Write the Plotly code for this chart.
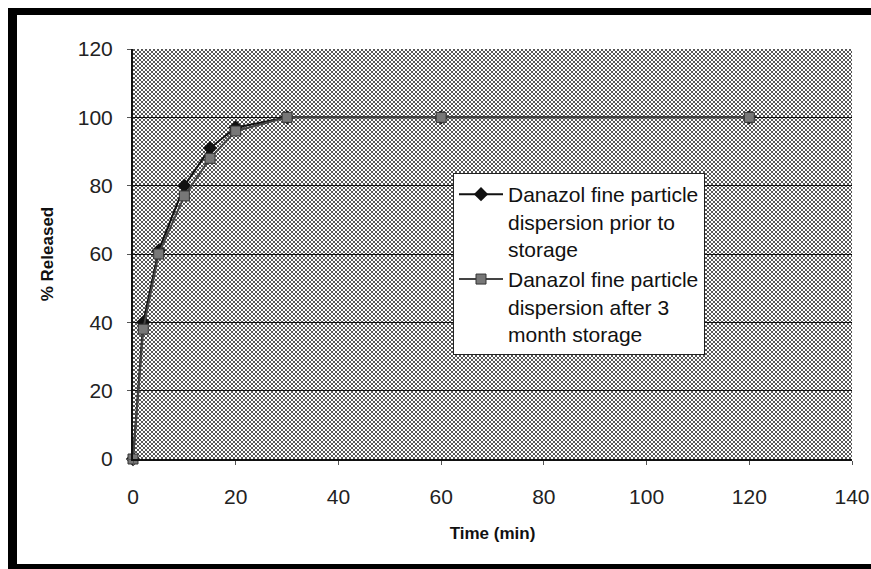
import plotly.graph_objects as go
import base64

# ---- data ----
time_min = [0, 2, 5, 10, 15, 20, 30, 60, 120]
prior_storage = [0, 40, 61, 80, 91, 97, 100, 100, 100]
after_3_months = [0, 38, 60, 77, 88, 96, 100, 100, 100]
series_names = [
    "Danazol fine particle<br>dispersion prior to<br>storage",
    "Danazol fine particle<br>dispersion after 3<br>month storage",
]
x_ticks = [0, 20, 40, 60, 80, 100, 120, 140]
y_ticks = [0, 20, 40, 60, 80, 100, 120]

FONT = "Arial, Liberation Sans, sans-serif"

FIG_W, FIG_H = 871, 569
ML, MR, MT, MB = 133, 19, 49, 110
PW = FIG_W - ML - MR
PH = FIG_H - MT - MB


def px_to_paper_x(px):
    return (px - ML) / PW


def px_to_paper_y(py):
    return (FIG_H - MB - py) / PH


# halftone-like background pattern for the plot area
svg = (
    f'<svg xmlns="http://www.w3.org/2000/svg" width="{PW}" height="{PH}" viewBox="0 0 {PW} {PH}">'
    '<defs><pattern id="p" patternUnits="userSpaceOnUse" width="4" height="4">'
    '<rect width="4" height="4" fill="#ffffff"/>'
    '<rect x="0" y="0" width="2" height="2" fill="#575757"/>'
    '<rect x="2" y="2" width="2" height="2" fill="#575757"/>'
    '</pattern></defs>'
    f'<rect width="{PW}" height="{PH}" fill="url(#p)"/></svg>'
)
bg_uri = "data:image/svg+xml;base64," + base64.b64encode(svg.encode()).decode()

fig = go.Figure()
fig.add_trace(go.Scatter(
    x=time_min, y=prior_storage, mode="lines+markers", name=series_names[0],
    line=dict(color="#111111", width=2),
    marker=dict(symbol="diamond", size=11, color="#111111"),
    cliponaxis=False,
))
fig.add_trace(go.Scatter(
    x=time_min, y=after_3_months, mode="lines+markers", name=series_names[1],
    line=dict(color="#444444", width=2),
    marker=dict(symbol="square", size=10, color="#777777",
                line=dict(color="#333333", width=1)),
    cliponaxis=False,
))

fig.update_layout(
    width=FIG_W, height=FIG_H,
    margin=dict(l=ML, r=MR, t=MT, b=MB, autoexpand=False),
    paper_bgcolor="white",
    plot_bgcolor="#a8a8a8",
    font=dict(family=FONT, size=21, color="#111111"),
    showlegend=True,
    legend=dict(
        x=px_to_paper_x(453), y=px_to_paper_y(173), xanchor="left", yanchor="top",
        bgcolor="white", bordercolor="#222222", borderwidth=1,
        font=dict(family=FONT, size=21, color="#111111"),
        tracegroupgap=0, valign="top", itemwidth=44,
    ),
    images=[dict(
        source=bg_uri, xref="paper", yref="paper", x=0, y=1,
        sizex=1, sizey=1, xanchor="left", yanchor="top",
        sizing="stretch", layer="below",
    )],
    shapes=[
        # outer black frame (left, top, bottom)
        dict(type="rect", xref="paper", yref="paper",
             x0=px_to_paper_x(8), x1=px_to_paper_x(17),
             y0=px_to_paper_y(FIG_H), y1=px_to_paper_y(8),
             fillcolor="black", line=dict(width=0)),
        dict(type="rect", xref="paper", yref="paper",
             x0=px_to_paper_x(8), x1=px_to_paper_x(FIG_W),
             y0=px_to_paper_y(15), y1=px_to_paper_y(8),
             fillcolor="black", line=dict(width=0)),
        dict(type="rect", xref="paper", yref="paper",
             x0=px_to_paper_x(8), x1=px_to_paper_x(FIG_W),
             y0=px_to_paper_y(FIG_H), y1=px_to_paper_y(564),
             fillcolor="black", line=dict(width=0)),
    ],
)

fig.update_xaxes(
    range=[0, 140], tickvals=x_ticks, ticktext=[str(v) for v in x_ticks],
    showgrid=False, zeroline=False, automargin=False,
    showline=True, linecolor="#111111", linewidth=2,
    ticks="outside", ticklen=4, tickcolor="#555555",
    ticklabelstandoff=14,
    tickfont=dict(family=FONT, size=21, color="#222222"),
    title=dict(text="<b>Time (min)</b>", font=dict(family=FONT, size=17, color="#111111"), standoff=20),
)
fig.update_yaxes(
    range=[0, 120], tickvals=y_ticks, ticktext=[str(v) for v in y_ticks],
    showgrid=True, gridcolor="#111111", gridwidth=1, zeroline=False, automargin=False,
    showline=True, linecolor="#111111", linewidth=2,
    ticks="outside", ticklen=4, tickcolor="#555555",
    ticklabelstandoff=10,
    tickfont=dict(family=FONT, size=21, color="#222222"),
    title=dict(text="<b>% Released</b>", font=dict(family=FONT, size=17, color="#111111"), standoff=20),
)

fig.write_html(
    "out.html",
    config={"displayModeBar": False},
    post_script=(
        "document.documentElement.style.overflow='hidden';"
        "document.body.style.margin='0';document.body.style.overflow='hidden';"
    ),
)
